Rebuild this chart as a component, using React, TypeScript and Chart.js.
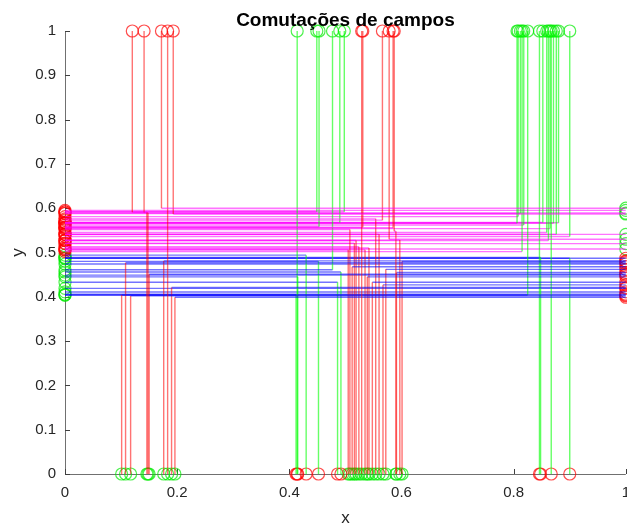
import React, { useEffect, useRef } from "react";
import { Chart, registerables } from "chart.js";

Chart.register(...registerables);

const chartTitle = "Comutações de campos";
const xLabel = "x";
const yLabel = "y";
const xTicks = [0, 0.2, 0.4, 0.6, 0.8, 1];
const yTicks = [0, 0.1, 0.2, 0.3, 0.4, 0.5, 0.6, 0.7, 0.8, 0.9, 1];

// Red vertical segments that start at y = 1
const topRedX = [0.120, 0.141, 0.172, 0.183, 0.193, 0.529, 0.531, 0.566, 0.578, 0.585, 0.587];
const topRedLevel = [0.591, 0.590, 0.600, 0, 0.587, 0, 0.557, 0.573, 0.530, 0.556, 0.548];
const topRedEnd = [0.146, 0.148, 1, 0.183, 1, 0.529, 0, 0, 1, 0, 0.590];

// Red vertical segments that start at y = 0
const bottomRedX = [0.101, 0.108, 0.117, 0.150, 0.176, 0.190, 0.196, 0.505, 0.508, 0.512, 0.516, 0.519, 0.524, 0.535, 0.539, 0.542, 0.548, 0.554, 0.560, 0.567, 0.572, 0.591, 0.597, 0.601];
const bottomRedLevel = [0.404, 0.477, 0.402, 0.451, 0.481, 0.421, 0.399, 0.506, 0.552, 0.468, 0.521, 0.527, 0.513, 0.506, 0.445, 0.510, 0.433, 0.576, 0.541, 0.427, 0.462, 0.455, 0.528, 0.480];
const bottomRedEnd = [1, 1, 1, 1, 1, 1, 1, 0, 0, 1, 0, 0, 0, 0, 1, 0, 1, 0, 0, 1, 1, 1, 0, 1];

// Green vertical segments that start at y = 1
const topGreenX = [0.414, 0.449, 0.453, 0.477, 0.490, 0.498, 0.806, 0.808, 0.812, 0.815, 0.818, 0.825, 0.846, 0.852, 0.859, 0.862, 0.865, 0.867, 0.871, 0.876, 0.880, 0.900];
const topGreenLevel = [0, 0.592, 0.558, 0.461, 0.568, 0.592, 0.566, 0.581, 0.588, 0.502, 0.562, 0.404, 0, 0.568, 0.545, 0.527, 0.554, 0, 0.566, 0.541, 0.567, 0.536];
const topGreenEnd = [0.414, 0, 0, 0, 0, 0, 0, 0, 0, 0, 0, 0, 0.846, 0, 0, 0, 0, 0.867, 0, 0, 0, 0];

// Green vertical segments that start at y = 0
const bottomGreenX = [0.412, 0.415, 0.430, 0.452, 0.486, 0.492, 0.848, 0.900];
const bottomGreenLevel = [0.404, 0.445, 0.494, 0.480, 0.433, 0.456, 0.489, 0.487];
const bottomGreenEnd = [0, 0, 0, 0, 0, 0, 0, 0];

// Horizontal lines crossing the full width
const acrossMagentaY = [0.595, 0.589, 0.541, 0.520, 0.508];
const acrossBlueY = [0.487, 0.474, 0.449, 0.419, 0.411, 0.406];

const RED = "rgba(255,0,0,0.55)";
const GREEN = "rgba(0,255,0,0.6)";
const MAGENTA = "rgba(255,0,255,0.55)";
const BLUE = "rgba(0,0,255,0.55)";
const RED_C = "rgba(255,0,0,0.7)";
const GREEN_C = "rgba(0,235,0,0.7)";
const FONT = "'Liberation Sans', Arial, Helvetica, sans-serif";

type P = { x: number; y: number };

function fmt(v: number) {
  return String(Math.round(v * 10) / 10);
}

export default function App() {
  const ref = useRef<HTMLCanvasElement>(null);

  useEffect(() => {
    document.body.style.margin = "0";
    const segs: { pts: P[]; color: string }[] = [];
    const redPts: P[] = [];
    const greenPts: P[] = [];

    const onEdge = (p: P) => p.x === 0 || p.x === 1 || p.y === 0 || p.y === 1;
    const circle = (p: P, vIsRed: boolean) => {
      let red: boolean;
      if (p.y === 1) red = vIsRed;
      else if (p.y === 0) red = !vIsRed;
      else if (p.x === 0) red = p.y > 0.5;
      else red = p.y <= 0.5;
      (red ? redPts : greenPts).push(p);
    };

    const addPath = (xv: number, edgeY: number, level: number, endX: number, vIsRed: boolean) => {
      const lv = level === 0 && edgeY === 1 ? 0 : level;
      const pts: P[] = [{ x: xv, y: edgeY }, { x: xv, y: lv }];
      if (endX !== xv) {
        pts.push({ x: endX, y: lv });
        if (endX !== 0 && endX !== 1) pts.push({ x: endX, y: 1 - edgeY });
      }
      for (let i = 0; i < pts.length - 1; i++) {
        const a = pts[i], b = pts[i + 1];
        if (a.x === b.x && a.y === b.y) continue;
        const vertical = a.x === b.x;
        segs.push({ pts: [a, b], color: vertical ? (vIsRed ? RED : GREEN) : a.y > 0.5 ? MAGENTA : BLUE });
      }
      circle(pts[0], vIsRed);
      const last = pts[pts.length - 1];
      if (onEdge(last)) circle(last, vIsRed);
    };

    topRedX.forEach((x, i) => addPath(x, 1, topRedLevel[i], topRedEnd[i], true));
    bottomRedX.forEach((x, i) => addPath(x, 0, bottomRedLevel[i], bottomRedEnd[i], true));
    topGreenX.forEach((x, i) => addPath(x, 1, topGreenLevel[i], topGreenEnd[i], false));
    bottomGreenX.forEach((x, i) => addPath(x, 0, bottomGreenLevel[i], bottomGreenEnd[i], false));
    [...acrossMagentaY, ...acrossBlueY].forEach((y) => {
      segs.push({ pts: [{ x: 0, y }, { x: 1, y }], color: y > 0.5 ? MAGENTA : BLUE });
      circle({ x: 0, y }, true);
      circle({ x: 1, y }, true);
    });

    const datasets: any[] = segs.map((s) => ({
      data: s.pts,
      showLine: true,
      borderColor: s.color,
      borderWidth: 1.4,
      pointRadius: 0,
      pointHoverRadius: 0,
      fill: false,
    }));
    datasets.push({
      data: redPts, showLine: false, pointRadius: 6, pointBorderWidth: 1.2,
      pointBorderColor: RED_C, pointBackgroundColor: "rgba(0,0,0,0)", clip: false,
    });
    datasets.push({
      data: greenPts, showLine: false, pointRadius: 6, pointBorderWidth: 1.2,
      pointBorderColor: GREEN_C, pointBackgroundColor: "rgba(0,0,0,0)", clip: false,
    });

    const deco = {
      id: "deco",
      beforeDatasetsDraw(chart: any) {
        const { ctx, chartArea: a, scales } = chart;
        const sx = scales.x, sy = scales.y;
        ctx.save();
        ctx.strokeStyle = "#707070";
        ctx.lineWidth = 1;
        ctx.beginPath();
        ctx.moveTo(a.left + 0.5, a.top);
        ctx.lineTo(a.left + 0.5, a.bottom + 0.5);
        ctx.lineTo(a.right, a.bottom + 0.5);
        ctx.stroke();
        ctx.strokeStyle = "#404040";
        ctx.beginPath();
        xTicks.forEach((v) => {
          const px = Math.round(sx.getPixelForValue(v)) + 0.5;
          ctx.moveTo(px, a.bottom);
          ctx.lineTo(px, a.bottom - 5);
        });
        yTicks.forEach((v) => {
          const py = Math.round(sy.getPixelForValue(v)) + 0.5;
          ctx.moveTo(a.left, py);
          ctx.lineTo(a.left + 5, py);
        });
        ctx.stroke();
        ctx.restore();
      },
      afterDraw(chart: any) {
        const { ctx, chartArea: a } = chart;
        ctx.save();
        ctx.fillStyle = "#000";
        ctx.textAlign = "center";
        ctx.textBaseline = "alphabetic";
        ctx.font = `bold 19px ${FONT}`;
        ctx.fillText(chartTitle, (a.left + a.right) / 2, 26);
        ctx.fillStyle = "#262626";
        ctx.font = `17px ${FONT}`;
        ctx.fillText(xLabel, (a.left + a.right) / 2, 523);
        ctx.translate(23, (a.top + a.bottom) / 2);
        ctx.rotate(-Math.PI / 2);
        ctx.fillText(yLabel, 0, 0);
        ctx.restore();
      },
    };

    const chart = new Chart(ref.current as HTMLCanvasElement, {
      type: "scatter",
      data: { datasets },
      options: {
        animation: false,
        responsive: false,
        devicePixelRatio: 1,
        events: [],
        layout: { padding: { top: 31, right: 12.5, left: 0, bottom: 0 } },
        plugins: { legend: { display: false }, tooltip: { enabled: false }, title: { display: false } },
        scales: {
          x: {
            type: "linear",
            min: 0,
            max: 1,
            afterFit: (s: any) => { s.height = 54; },
            afterBuildTicks: (s: any) => { s.ticks = xTicks.map((v) => ({ value: v })); },
            ticks: { padding: 10, color: "#262626", font: { family: FONT, size: 15 }, callback: (v: any) => fmt(Number(v)), maxRotation: 0, autoSkip: false },
            grid: { display: false, drawTicks: false },
            border: { display: false },
          },
          y: {
            type: "linear",
            min: 0,
            max: 1,
            afterFit: (s: any) => { s.width = 65; },
            afterBuildTicks: (s: any) => { s.ticks = yTicks.map((v) => ({ value: v })); },
            ticks: { padding: 9, color: "#262626", font: { family: FONT, size: 15 }, callback: (v: any) => fmt(Number(v)), autoSkip: false },
            grid: { display: false, drawTicks: false },
            border: { display: false },
          },
        },
      } as any,
      plugins: [deco],
    });
    return () => chart.destroy();
  }, []);

  return (
    <div style={{ width: 627, height: 528, overflow: "hidden", background: "#fff" }}>
      <canvas ref={ref} width={640} height={528} style={{ display: "block" }} />
    </div>
  );
}
